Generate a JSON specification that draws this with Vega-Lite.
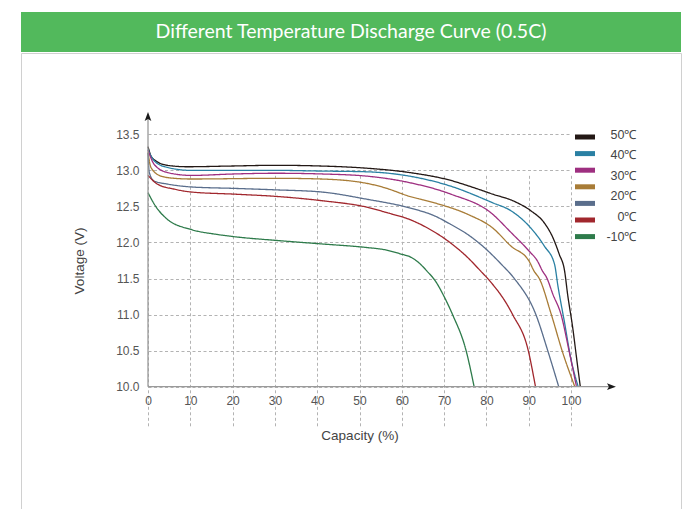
{
  "$schema": "https://vega.github.io/schema/vega-lite/v6.json",
  "padding": {"left": 20, "top": 12, "right": 9, "bottom": 0},
  "background": "white",
  "spacing": 0,
  "config": {"view": {"stroke": null}, "font": "Liberation Sans"},
  "datasets": {
    "banner": [{"t": "Different Temperature Discharge Curve (0.5C)"}],
    "curves": [
      {"temp": "50℃", "capacity": 0, "voltage": 13.33},
      {"temp": "50℃", "capacity": 0.7, "voltage": 13.2},
      {"temp": "50℃", "capacity": 1.9, "voltage": 13.13},
      {"temp": "50℃", "capacity": 4.6, "voltage": 13.07},
      {"temp": "50℃", "capacity": 9.3, "voltage": 13.05},
      {"temp": "50℃", "capacity": 19.6, "voltage": 13.06},
      {"temp": "50℃", "capacity": 30, "voltage": 13.07},
      {"temp": "50℃", "capacity": 41, "voltage": 13.06},
      {"temp": "50℃", "capacity": 51.7, "voltage": 13.03},
      {"temp": "50℃", "capacity": 61.8, "voltage": 12.97},
      {"temp": "50℃", "capacity": 71.6, "voltage": 12.86},
      {"temp": "50℃", "capacity": 76, "voltage": 12.78},
      {"temp": "50℃", "capacity": 81.5, "voltage": 12.67},
      {"temp": "50℃", "capacity": 86.6, "voltage": 12.57},
      {"temp": "50℃", "capacity": 90.5, "voltage": 12.44},
      {"temp": "50℃", "capacity": 93.7, "voltage": 12.27},
      {"temp": "50℃", "capacity": 95.7, "voltage": 12.07},
      {"temp": "50℃", "capacity": 97.2, "voltage": 11.84},
      {"temp": "50℃", "capacity": 98.5, "voltage": 11.6},
      {"temp": "50℃", "capacity": 99.2, "voltage": 11.28},
      {"temp": "50℃", "capacity": 100.4, "voltage": 10.82},
      {"temp": "50℃", "capacity": 101.4, "voltage": 10.36},
      {"temp": "50℃", "capacity": 102.2, "voltage": 10.0},

      {"temp": "40℃", "capacity": 0, "voltage": 13.29},
      {"temp": "40℃", "capacity": 1.5, "voltage": 13.13},
      {"temp": "40℃", "capacity": 4.6, "voltage": 13.04},
      {"temp": "40℃", "capacity": 10.2, "voltage": 13.0},
      {"temp": "40℃", "capacity": 30, "voltage": 13.0},
      {"temp": "40℃", "capacity": 41, "voltage": 12.99},
      {"temp": "40℃", "capacity": 51.7, "voltage": 12.98},
      {"temp": "40℃", "capacity": 61.8, "voltage": 12.92},
      {"temp": "40℃", "capacity": 71.6, "voltage": 12.78},
      {"temp": "40℃", "capacity": 81.5, "voltage": 12.55},
      {"temp": "40℃", "capacity": 85.8, "voltage": 12.44},
      {"temp": "40℃", "capacity": 90.5, "voltage": 12.2},
      {"temp": "40℃", "capacity": 93.7, "voltage": 11.95},
      {"temp": "40℃", "capacity": 96.1, "voltage": 11.7},
      {"temp": "40℃", "capacity": 96.9, "voltage": 11.4},
      {"temp": "40℃", "capacity": 98.5, "voltage": 10.88},
      {"temp": "40℃", "capacity": 100, "voltage": 10.38},
      {"temp": "40℃", "capacity": 101.7, "voltage": 10.0},

      {"temp": "30℃", "capacity": 0, "voltage": 13.28},
      {"temp": "30℃", "capacity": 1.5, "voltage": 13.08},
      {"temp": "30℃", "capacity": 4.6, "voltage": 12.97},
      {"temp": "30℃", "capacity": 10.2, "voltage": 12.93},
      {"temp": "30℃", "capacity": 20.4, "voltage": 12.95},
      {"temp": "30℃", "capacity": 30, "voltage": 12.96},
      {"temp": "30℃", "capacity": 41, "voltage": 12.95},
      {"temp": "30℃", "capacity": 51.7, "voltage": 12.92},
      {"temp": "30℃", "capacity": 61.8, "voltage": 12.83},
      {"temp": "30℃", "capacity": 71.6, "voltage": 12.67},
      {"temp": "30℃", "capacity": 81.1, "voltage": 12.41},
      {"temp": "30℃", "capacity": 85.8, "voltage": 12.14},
      {"temp": "30℃", "capacity": 90.1, "voltage": 11.88},
      {"temp": "30℃", "capacity": 92.1, "voltage": 11.74},
      {"temp": "30℃", "capacity": 93.3, "voltage": 11.6},
      {"temp": "30℃", "capacity": 94.1, "voltage": 11.53},
      {"temp": "30℃", "capacity": 95.8, "voltage": 11.27},
      {"temp": "30℃", "capacity": 97.6, "voltage": 11.01},
      {"temp": "30℃", "capacity": 99.6, "voltage": 10.48},
      {"temp": "30℃", "capacity": 101.3, "voltage": 10.0},

      {"temp": "20℃", "capacity": 0, "voltage": 13.25},
      {"temp": "20℃", "capacity": 0.7, "voltage": 13.04},
      {"temp": "20℃", "capacity": 3.1, "voltage": 12.92},
      {"temp": "20℃", "capacity": 6.2, "voltage": 12.89},
      {"temp": "20℃", "capacity": 10.2, "voltage": 12.88},
      {"temp": "20℃", "capacity": 30, "voltage": 12.89},
      {"temp": "20℃", "capacity": 41, "voltage": 12.88},
      {"temp": "20℃", "capacity": 51.7, "voltage": 12.82},
      {"temp": "20℃", "capacity": 55.9, "voltage": 12.76},
      {"temp": "20℃", "capacity": 61.8, "voltage": 12.64},
      {"temp": "20℃", "capacity": 67.7, "voltage": 12.55},
      {"temp": "20℃", "capacity": 75.6, "voltage": 12.39},
      {"temp": "20℃", "capacity": 81.5, "voltage": 12.2},
      {"temp": "20℃", "capacity": 85.8, "voltage": 11.95},
      {"temp": "20℃", "capacity": 90.1, "voltage": 11.74},
      {"temp": "20℃", "capacity": 91.3, "voltage": 11.6},
      {"temp": "20℃", "capacity": 92.5, "voltage": 11.5},
      {"temp": "20℃", "capacity": 95.3, "voltage": 11.01},
      {"temp": "20℃", "capacity": 98, "voltage": 10.48},
      {"temp": "20℃", "capacity": 100.9, "voltage": 10.0},

      {"temp": "10℃", "capacity": 0, "voltage": 13.24},
      {"temp": "10℃", "capacity": 0.3, "voltage": 12.97},
      {"temp": "10℃", "capacity": 1.5, "voltage": 12.85},
      {"temp": "10℃", "capacity": 4.6, "voltage": 12.81},
      {"temp": "10℃", "capacity": 10.2, "voltage": 12.77},
      {"temp": "10℃", "capacity": 20.4, "voltage": 12.75},
      {"temp": "10℃", "capacity": 30, "voltage": 12.73},
      {"temp": "10℃", "capacity": 41, "voltage": 12.7},
      {"temp": "10℃", "capacity": 51.7, "voltage": 12.6},
      {"temp": "10℃", "capacity": 61.8, "voltage": 12.48},
      {"temp": "10℃", "capacity": 67.7, "voltage": 12.37},
      {"temp": "10℃", "capacity": 71.6, "voltage": 12.25},
      {"temp": "10℃", "capacity": 75.6, "voltage": 12.11},
      {"temp": "10℃", "capacity": 79.5, "voltage": 11.93},
      {"temp": "10℃", "capacity": 83.5, "voltage": 11.7},
      {"temp": "10℃", "capacity": 86.6, "voltage": 11.5},
      {"temp": "10℃", "capacity": 91.7, "voltage": 11.0},
      {"temp": "10℃", "capacity": 94.5, "voltage": 10.5},
      {"temp": "10℃", "capacity": 97.1, "voltage": 10.0},

      {"temp": "0℃", "capacity": 0, "voltage": 12.93},
      {"temp": "0℃", "capacity": 2.2, "voltage": 12.81},
      {"temp": "0℃", "capacity": 6.2, "voltage": 12.74},
      {"temp": "0℃", "capacity": 10.2, "voltage": 12.7},
      {"temp": "0℃", "capacity": 20.4, "voltage": 12.67},
      {"temp": "0℃", "capacity": 30, "voltage": 12.64},
      {"temp": "0℃", "capacity": 41, "voltage": 12.58},
      {"temp": "0℃", "capacity": 51.7, "voltage": 12.49},
      {"temp": "0℃", "capacity": 56.7, "voltage": 12.41},
      {"temp": "0℃", "capacity": 61.8, "voltage": 12.32},
      {"temp": "0℃", "capacity": 66.1, "voltage": 12.2},
      {"temp": "0℃", "capacity": 71.6, "voltage": 11.99},
      {"temp": "0℃", "capacity": 75.6, "voltage": 11.79},
      {"temp": "0℃", "capacity": 78.7, "voltage": 11.6},
      {"temp": "0℃", "capacity": 80.3, "voltage": 11.5},
      {"temp": "0℃", "capacity": 86.2, "voltage": 11.0},
      {"temp": "0℃", "capacity": 89.9, "voltage": 10.5},
      {"temp": "0℃", "capacity": 91.6, "voltage": 10.0},

      {"temp": "-10℃", "capacity": 0, "voltage": 12.69},
      {"temp": "-10℃", "capacity": 1.5, "voltage": 12.53},
      {"temp": "-10℃", "capacity": 4.6, "voltage": 12.32},
      {"temp": "-10℃", "capacity": 10.2, "voltage": 12.18},
      {"temp": "-10℃", "capacity": 16.5, "voltage": 12.11},
      {"temp": "-10℃", "capacity": 20.4, "voltage": 12.08},
      {"temp": "-10℃", "capacity": 30, "voltage": 12.03},
      {"temp": "-10℃", "capacity": 41, "voltage": 11.98},
      {"temp": "-10℃", "capacity": 51.7, "voltage": 11.93},
      {"temp": "-10℃", "capacity": 55.9, "voltage": 11.9},
      {"temp": "-10℃", "capacity": 59.8, "voltage": 11.84},
      {"temp": "-10℃", "capacity": 62, "voltage": 11.8},
      {"temp": "-10℃", "capacity": 64, "voltage": 11.72},
      {"temp": "-10℃", "capacity": 66, "voltage": 11.6},
      {"temp": "-10℃", "capacity": 68, "voltage": 11.46},
      {"temp": "-10℃", "capacity": 70, "voltage": 11.25},
      {"temp": "-10℃", "capacity": 72, "voltage": 11.0},
      {"temp": "-10℃", "capacity": 75.2, "voltage": 10.5},
      {"temp": "-10℃", "capacity": 77.1, "voltage": 10.0}
    ]
  },
  "vconcat": [
    {
      "width": 660,
      "height": 40,
      "view": {"fill": "#52b95c", "stroke": null},
      "data": {"name": "banner"},
      "mark": {"type": "text", "color": "#ffffff", "font": "Lato", "fontSize": 19.5, "align": "center", "baseline": "middle"},
      "encoding": {"text": {"field": "t", "type": "nominal"}}
    },
    {
      "width": 660,
      "height": 456,
      "view": {"fill": "#ffffff", "stroke": "#d0d0d0"},
      "layer": [
        {
          "data": {"name": "curves"},
          "mark": {"type": "line", "interpolate": "monotone", "strokeWidth": 1.3},
          "encoding": {
            "x": {
              "field": "capacity",
              "type": "quantitative",
              "scale": {"domain": [0, 100], "range": [127, 550], "nice": false, "zero": false},
              "axis": {
                "title": "Capacity (%)",
                "values": [0, 10, 20, 30, 40, 50, 60, 70, 80, 90, 100],
                "format": "d",
                "offset": -122.3,
                "domain": false,
                "ticks": false,
                "labelPadding": 9,
                "labelFontSize": 12,
                "labelColor": "#555555",
                "labelOverlap": false,
                "labelFlush": false,
                "titleFontSize": 13.5,
                "titleFontWeight": "normal",
                "titleColor": "#444444",
                "titlePadding": 22,
                "grid": true,
                "gridDash": [3, 2.5],
                "gridColor": "#b3b3b3",
                "gridWidth": 1
              }
            },
            "y": {
              "field": "voltage",
              "type": "quantitative",
              "scale": {"domain": [10, 13.5], "range": [333.7, 81.3], "nice": false, "zero": false},
              "axis": {
                "title": "Voltage (V)",
                "values": [10, 10.5, 11, 11.5, 12, 12.5, 13, 13.5],
                "format": ".1f",
                "offset": -127,
                "domain": false,
                "ticks": false,
                "labelPadding": 9,
                "labelFontSize": 12,
                "labelColor": "#555555",
                "labelOverlap": false,
                "labelFlush": false,
                "titleFontSize": 13.5,
                "titleFontWeight": "normal",
                "titleColor": "#444444",
                "titlePadding": 29,
                "grid": true,
                "gridDash": [3, 2.5],
                "gridColor": "#b3b3b3",
                "gridWidth": 1
              }
            },
            "color": {
              "field": "temp",
              "type": "nominal",
              "scale": {
                "domain": ["50℃", "40℃", "30℃", "20℃", "10℃", "0℃", "-10℃"],
                "range": ["#231815", "#2a80a3", "#9e2f80", "#a87c37", "#5a6e8c", "#a1272d", "#2e7b4b"]
              },
              "legend": {
                "title": null,
                "orient": "none",
                "legendX": 558,
                "legendY": 119,
                "padding": 0,
                "symbolType": "M-2,-0.5H2V0.5H-2Z",
                "symbolSize": 100,
                "symbolStrokeWidth": 0,
                "symbolOpacity": 1,
                "labelFontSize": 12,
                "rowPadding": 4.6,
                "labelExpr": "''",
                "encode": {
                  "symbols": {"update": {"fill": {"scale": "color", "field": "value"}, "strokeWidth": {"value": 0}}}
                }
              }
            },
            "strokeDash": {
              "field": "temp",
              "type": "nominal",
              "scale": {
                "domain": ["50℃", "40℃", "30℃", "20℃", "0℃", "-10℃", "10℃"],
                "range": [[1, 0], [1, 0], [1, 0], [1, 0], [1, 0], [1, 0], [1, 0]]
              },
              "legend": {
                "title": null,
                "orient": "none",
                "legendX": 558,
                "legendY": 116.5,
                "padding": 0,
                "values": ["50℃", "40℃", "30℃", "20℃", "0℃", "-10℃"],
                "symbolType": "M-2,-0.5H2V0.5H-2Z",
                "symbolSize": 100,
                "symbolOpacity": 0,
                "symbolStrokeWidth": 0,
                "labelAlign": "right",
                "labelOffset": 45,
                "labelFontSize": 12.5,
                "labelColor": "#444444",
                "rowPadding": 7.5
              }
            }
          }
        },
        {
          "data": {"values": [{}]},
          "mark": {"type": "rule", "color": "#9a9a9a", "strokeWidth": 1.3},
          "encoding": {"x": {"datum": 0}, "y": {"datum": 10}, "y2": {"datum": 13.72}}
        },
        {
          "data": {"values": [{}]},
          "mark": {"type": "rule", "color": "#9a9a9a", "strokeWidth": 1.3},
          "encoding": {"x": {"datum": 0}, "x2": {"datum": 109.3}, "y": {"datum": 10}}
        },
        {
          "data": {"values": [{}]},
          "mark": {"type": "point", "shape": "M0,-1L0.6,0.6L0,0.25L-0.6,0.6Z", "filled": true, "size": 125, "color": "#1a1a1a", "opacity": 1},
          "encoding": {"x": {"datum": 0}, "y": {"datum": 13.73}}
        },
        {
          "data": {"values": [{}]},
          "mark": {"type": "point", "shape": "M1,0L-0.6,0.6L-0.25,0L-0.6,-0.6Z", "filled": true, "size": 125, "color": "#1a1a1a", "opacity": 1},
          "encoding": {"x": {"datum": 109.3}, "y": {"datum": 10}}
        }
      ]
    }
  ]
}
